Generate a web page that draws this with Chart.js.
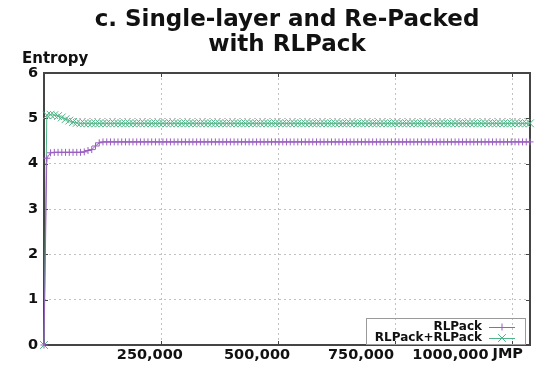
<!DOCTYPE html>
<html>
<head>
<meta charset="utf-8">
<script src="https://cdn.jsdelivr.net/npm/chart.js@4.4.1/dist/chart.umd.min.js"></script>
<style>
  html, body { margin: 0; padding: 0; background: #fff; }
</style>
</head>
<body>
<canvas id="chart" width="539" height="366"></canvas>
<script>
// ===== DATA (x in thousands of JMP) =====
const jmp = [0,
  6, 14, 22, 30, 38, 46, 54, 62, 70, 78,
  86, 94, 102, 110, 118, 126, 134, 142, 150, 158,
  166, 174, 182, 190, 198, 206, 214, 222, 230, 238,
  246, 254, 262, 270, 278, 286, 294, 302, 310, 318,
  326, 334, 342, 350, 358, 366, 374, 382, 390, 398,
  406, 414, 422, 430, 438, 446, 454, 462, 470, 478,
  486, 494, 502, 510, 518, 526, 534, 542, 550, 558,
  566, 574, 582, 590, 598, 606, 614, 622, 630, 638,
  646, 654, 662, 670, 678, 686, 694, 702, 710, 718,
  726, 734, 742, 750, 758, 766, 774, 782, 790, 798,
  806, 814, 822, 830, 838, 846, 854, 862, 870, 878,
  886, 894, 902, 910, 918, 926, 934, 942, 950, 958,
  966, 974, 982, 990, 998, 1006, 1014, 1022, 1030, 1038];

const rlpack = [0,
  4.12, 4.24, 4.25, 4.25, 4.25, 4.25, 4.25, 4.25, 4.25, 4.25,
  4.26, 4.29, 4.31, 4.39, 4.46, 4.48, 4.48, 4.48, 4.48, 4.48,
  4.48, 4.48, 4.48, 4.48, 4.48, 4.48, 4.48, 4.48, 4.48, 4.48,
  4.48, 4.48, 4.48, 4.48, 4.48, 4.48, 4.48, 4.48, 4.48, 4.48,
  4.48, 4.48, 4.48, 4.48, 4.48, 4.48, 4.48, 4.48, 4.48, 4.48,
  4.48, 4.48, 4.48, 4.48, 4.48, 4.48, 4.48, 4.48, 4.48, 4.48,
  4.48, 4.48, 4.48, 4.48, 4.48, 4.48, 4.48, 4.48, 4.48, 4.48,
  4.48, 4.48, 4.48, 4.48, 4.48, 4.48, 4.48, 4.48, 4.48, 4.48,
  4.48, 4.48, 4.48, 4.48, 4.48, 4.48, 4.48, 4.48, 4.48, 4.48,
  4.48, 4.48, 4.48, 4.48, 4.48, 4.48, 4.48, 4.48, 4.48, 4.48,
  4.48, 4.48, 4.48, 4.48, 4.48, 4.48, 4.48, 4.48, 4.48, 4.48,
  4.48, 4.48, 4.48, 4.48, 4.48, 4.48, 4.48, 4.48, 4.48, 4.48,
  4.48, 4.48, 4.48, 4.48, 4.48, 4.48, 4.48, 4.48, 4.48, 4.48];

const rlpackTwice = [0,
  5.07, 5.08, 5.07, 5.05, 5.02, 4.98, 4.95, 4.92, 4.90, 4.89,
  4.89, 4.89, 4.89, 4.89, 4.89, 4.89, 4.89, 4.89, 4.89, 4.89,
  4.89, 4.89, 4.89, 4.89, 4.89, 4.89, 4.89, 4.89, 4.89, 4.89,
  4.89, 4.89, 4.89, 4.89, 4.89, 4.89, 4.89, 4.89, 4.89, 4.89,
  4.89, 4.89, 4.89, 4.89, 4.89, 4.89, 4.89, 4.89, 4.89, 4.89,
  4.89, 4.89, 4.89, 4.89, 4.89, 4.89, 4.89, 4.89, 4.89, 4.89,
  4.89, 4.89, 4.89, 4.89, 4.89, 4.89, 4.89, 4.89, 4.89, 4.89,
  4.89, 4.89, 4.89, 4.89, 4.89, 4.89, 4.89, 4.89, 4.89, 4.89,
  4.89, 4.89, 4.89, 4.89, 4.89, 4.89, 4.89, 4.89, 4.89, 4.89,
  4.89, 4.89, 4.89, 4.89, 4.89, 4.89, 4.89, 4.89, 4.89, 4.89,
  4.89, 4.89, 4.89, 4.89, 4.89, 4.89, 4.89, 4.89, 4.89, 4.89,
  4.89, 4.89, 4.89, 4.89, 4.89, 4.89, 4.89, 4.89, 4.89, 4.89,
  4.89, 4.89, 4.89, 4.89, 4.89, 4.89, 4.89, 4.89, 4.89, 4.89];

const xTicks = [250, 500, 750, 1000];
const xTickLabels = ['250,000', '500,000', '750,000', '1000,000'];
const yTicks = [0, 1, 2, 3, 4, 5, 6];
const seriesNames = ['RLPack', 'RLPack+RLPack'];
const titleLines = ['c. Single-layer and Re-Packed', 'with RLPack'];

// ===== STYLE =====
const PURPLE = '#9a5fc0';
const GREEN = '#4fb487';
const INK = '#111';
const BOLD = 'DejaVu Sans';
// label anchors are shifted left of the ticks, like in the source figure
const xLabelAt = [226, 455, 677, 868];

function pts(ys) { return jmp.map((x, i) => ({ x: x, y: ys[i] })); }

// frame, inward ticks, axis names and the key box
const gnuFrame = {
  id: 'gnuFrame',
  beforeDatasetsDraw(chart) {
    const { ctx, chartArea: a, scales } = chart;
    ctx.save();
    ctx.strokeStyle = '#454545';
    ctx.lineWidth = 1;
    scales.x.ticks.forEach(t => {
      const px = Math.round(scales.x.getPixelForValue(t.value)) + 0.5;
      ctx.beginPath();
      ctx.moveTo(px, a.bottom); ctx.lineTo(px, a.bottom - 4);
      ctx.moveTo(px, a.top); ctx.lineTo(px, a.top + 4);
      ctx.stroke();
    });
    scales.y.ticks.forEach(t => {
      const py = Math.round(scales.y.getPixelForValue(t.value)) + 0.5;
      ctx.beginPath();
      ctx.moveTo(a.left, py); ctx.lineTo(a.left + 4, py);
      ctx.moveTo(a.right, py); ctx.lineTo(a.right - 4, py);
      ctx.stroke();
    });
    ctx.lineWidth = 2;
    ctx.strokeRect(a.left, a.top, a.right - a.left, a.bottom - a.top);
    ctx.restore();
  },
  afterDraw(chart) {
    const { ctx, chartArea: a } = chart;
    ctx.save();
    ctx.fillStyle = INK;
    ctx.textBaseline = 'alphabetic';
    ctx.font = 'bold 15px "' + BOLD + '"';
    ctx.textAlign = 'left';
    ctx.fillText('Entropy', 22, 63);
    ctx.font = 'bold 14.5px "' + BOLD + '"';
    ctx.textAlign = 'right';
    ctx.fillText('JMP', 523, 358);

    // key
    ctx.strokeStyle = '#9a9a9a';
    ctx.lineWidth = 1;
    ctx.strokeRect(366.5, 318.5, 159, a.bottom - 319);
    ctx.font = 'bold 12px "' + BOLD + '"';
    ctx.textBaseline = 'middle';
    chart.data.datasets.forEach((ds, i) => {
      const y = 327 + i * 11;
      ctx.fillStyle = INK;
      ctx.textAlign = 'right';
      ctx.fillText(ds.label, 482, y);
      ctx.strokeStyle = ds.borderColor;
      ctx.beginPath();
      ctx.moveTo(489, y + 0.5); ctx.lineTo(515, y + 0.5);
      const cx = 502, r = ds.pointRadius;
      if (ds.pointStyle === 'cross') {
        ctx.moveTo(cx - r, y + 0.5); ctx.lineTo(cx + r, y + 0.5);
        ctx.moveTo(cx, y - r); ctx.lineTo(cx, y + r);
      } else {
        const d = r * Math.SQRT1_2;
        ctx.moveTo(cx - d, y - d); ctx.lineTo(cx + d, y + d);
        ctx.moveTo(cx - d, y + d); ctx.lineTo(cx + d, y - d);
      }
      ctx.stroke();
    });
    ctx.restore();
  }
};

new Chart(document.getElementById('chart'), {
  type: 'line',
  data: {
    datasets: [
      {
        label: seriesNames[0], data: pts(rlpack),
        borderColor: PURPLE, backgroundColor: PURPLE, borderWidth: 1,
        pointStyle: 'cross', pointRadius: 3.5, pointBorderWidth: 1,
        pointBorderColor: PURPLE, tension: 0, clip: false
      },
      {
        label: seriesNames[1], data: pts(rlpackTwice),
        borderColor: GREEN, backgroundColor: GREEN, borderWidth: 1,
        pointStyle: 'crossRot', pointRadius: 5.5, pointBorderWidth: 1,
        pointBorderColor: GREEN, tension: 0, clip: false
      }
    ]
  },
  options: {
    responsive: false,
    animation: false,
    events: [],
    layout: { padding: { top: 0, right: 9, bottom: 0, left: 0 } },
    plugins: {
      legend: { display: false },
      tooltip: { enabled: false },
      title: {
        display: true, fullSize: false, text: titleLines, color: INK,
        font: { family: BOLD, weight: 'bold', size: 23, lineHeight: 25 / 23 },
        padding: { top: 8, bottom: 15 }
      }
    },
    scales: {
      x: {
        type: 'linear', min: 0, max: 1038,
        afterBuildTicks: s => { s.ticks = xTicks.map(v => ({ value: v })); },
        ticks: { display: false },
        grid: { color: '#c2c2c2', lineWidth: 1, drawTicks: false },
        border: { display: false, dash: [2, 3] },
        afterFit: s => { s.height = 0; }
      },
      xl: {
        type: 'linear', position: 'bottom', min: 0, max: 1038,
        afterBuildTicks: s => { s.ticks = xLabelAt.map(v => ({ value: v })); },
        ticks: {
          autoSkip: false, maxRotation: 0, padding: 2, color: INK,
          font: { family: BOLD, weight: 'bold', size: 14.5 },
          callback: (v, i) => xTickLabels[i]
        },
        grid: { display: false, drawTicks: false },
        border: { display: false },
        afterFit: s => { s.height = 21; }
      },
      y: {
        type: 'linear', min: 0, max: 6,
        afterBuildTicks: s => { s.ticks = yTicks.map(v => ({ value: v })); },
        ticks: {
          padding: 6, color: INK,
          font: { family: BOLD, weight: 'bold', size: 14.5 },
          callback: v => String(v)
        },
        grid: { color: '#c2c2c2', lineWidth: 1, drawTicks: false },
        border: { display: false, dash: [2, 3] },
        afterFit: s => { s.width = 44; }
      }
    }
  },
  plugins: [gnuFrame]
});
</script>
</body>
</html>
